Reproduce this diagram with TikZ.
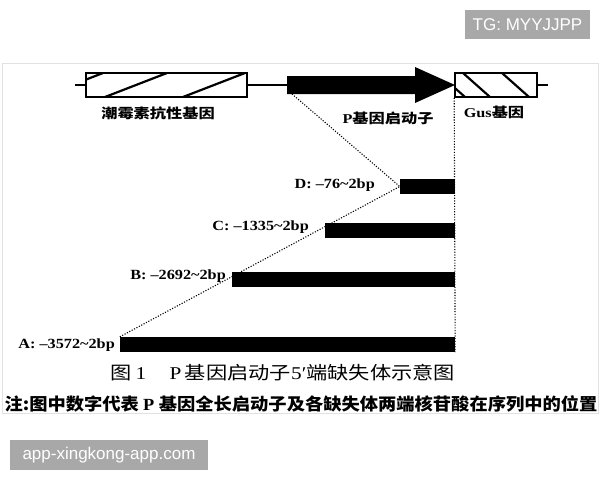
\documentclass[tikz,border=0pt]{standalone}
\usepackage{fontspec}
\setmainfont{Liberation Serif}
\newfontfamily\cjk{Noto Sans CJK SC}
\newfontfamily\wmfont{Liberation Sans}
\newcommand\xs[2]{\scalebox{#1}[1]{#2}}
\definecolor{wmgray}{RGB}{168,168,168}
\definecolor{panelline}{RGB}{225,225,225}
\begin{document}
\begin{tikzpicture}[x=1pt,y=-1pt,
  genebox/.style={draw, line width=1.6pt, inner sep=0pt, minimum height=24pt},
  bar/.style={fill=black, inner sep=0pt, minimum height=15pt},
  hatch/.style={line width=2.2pt},
  wire/.style={line width=1.2pt},
  dots/.style={line width=1.1pt, dash pattern=on 1.1pt off 1.6pt},
  lbl/.style={inner sep=0pt, anchor=base east, font=\fontsize{14}{16}\selectfont\bfseries},
  cjklbl/.style={inner sep=0pt, font=\fontsize{13.5}{16}\selectfont\bfseries},
  wmbox/.style={fill=wmgray, text=white, inner sep=0pt, font=\wmfont\fontsize{17}{20}\selectfont}]
\useasboundingbox (0,0) rectangle (600,480);
\fill[white] (0,0) rectangle (600,480);
% panel frame
\draw[panelline, line width=0.9pt] (2,63) rectangle (598,413);
% genes
\node[genebox, minimum width=161pt] (tet) at (166.5,85) {};
\node[genebox, minimum width=82pt] (gus) at (496,85) {};
\coordinate (tl) at (75,85);
\coordinate (gr) at (548,85);
\coordinate (pa) at (287,85);
\coordinate (ptip) at (455,85);
\coordinate (pbl) at (292,94);
\draw[wire] (tl) -- (tet.west);
\draw[wire] (tet.east) -- (pa);
\draw[wire] (gus.east) -- (gr);
% hatching
\begin{scope}
  \clip (tet.south west) rectangle (tet.north east);
  \foreach \t in {103,167,245} \draw[hatch] (\t,73) -- (\t-62,97);
\end{scope}
\begin{scope}
  \clip (gus.south west) rectangle (gus.north east);
  \foreach \t in {438,463,502} \draw[hatch] (\t,73) -- (\t+27,97);
\end{scope}
% promoter arrow
\fill (pa |- 0,76) -- (415,76) -- (415,67) -- (ptip) -- (415,103) -- (415,94) -- (pa |- 0,94) -- cycle;
% deletion bars
\node[bar, minimum width=55pt] (bD) at (427.5,186.5) {};
\node[bar, minimum width=130pt] (bC) at (390,230.5) {};
\node[bar, minimum width=223pt] (bB) at (343.5,279.5) {};
\node[bar, minimum width=335pt] (bA) at (287.5,344.5) {};
% dotted guides
\draw[dots] (pbl) -- (bD.west);
\draw[dots] (bA.north west) -- (bD.west);
\draw[dots] (gus.south west) -- (bA.south east);
% labels
\node[lbl] (lD) at (375,188) {\xs{1.16}{D: –76\textasciitilde 2bp}};
\node[lbl] (lC) at (309,230) {\xs{1.16}{C: –1335\textasciitilde 2bp}};
\node[lbl] (lB) at (226,279) {\xs{1.16}{B: –2692\textasciitilde 2bp}};
\node[lbl] (lA) at (115,348) {\xs{1.16}{A: –3572\textasciitilde 2bp}};
\node[cjklbl] (ltet) at (158,113) {\xs{1.2}{\cjk\bfseries 潮霉素抗性基因}};
\node[cjklbl] (lp) at (388,118) {\xs{1.2}{\bfseries P\cjk\bfseries 基因启动子}};
\node[cjklbl] (lgus) at (494,112) {\xs{1.2}{\bfseries Gus\cjk\bfseries 基因}};
% caption
\node[inner sep=0pt, font=\fontsize{18}{21}\selectfont] (cap) at (283,373)
  {\xs{1.18}{\cjk 图\,\rmfamily 1\hspace{1.1em}P\,\cjk 基因启动子\rmfamily 5′\cjk 端缺失体示意图}};
\node[inner sep=0pt, font=\fontsize{17}{20}\selectfont] (note) at (301,404)
  {\xs{1.075}{\cjk\bfseries 注:图中数字代表 \rmfamily\bfseries P \cjk\bfseries 基因全长启动子及各缺失体两端核苷酸在序列中的位置}};
% watermarks
\node[wmbox, minimum width=125pt, minimum height=29pt] (tg) at (527.5,24.5) {TG: MYYJJPP};
\node[wmbox, minimum width=198pt, minimum height=30pt] (app) at (109,455) {app-xingkong-app.com};
\end{tikzpicture}
\end{document}
